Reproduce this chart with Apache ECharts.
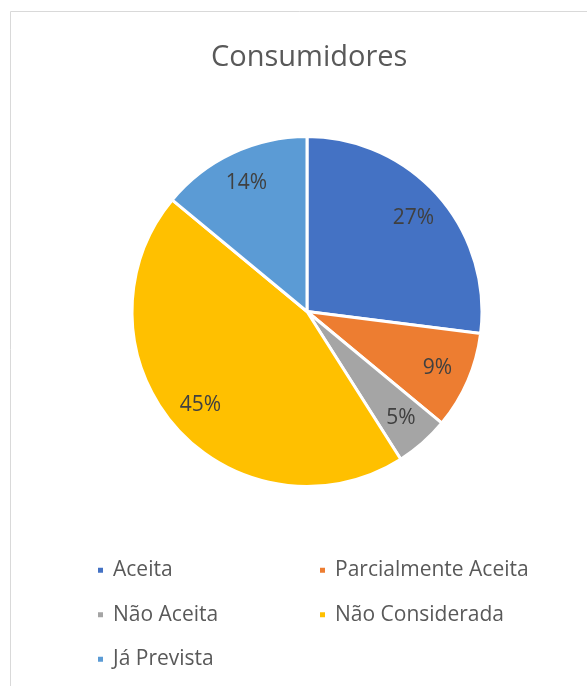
<!DOCTYPE html>
<html>
<head>
<meta charset="utf-8">
<script src="https://cdn.jsdelivr.net/npm/echarts@6/dist/echarts.min.js"></script>
<style>html,body{margin:0;padding:0;background:#fff}#c{width:587px;height:686px}</style>
</head>
<body>
<div id="c"></div>
<script>
const categories = ['Aceita', 'Parcialmente Aceita', 'Não Aceita', 'Não Considerada', 'Já Prevista'];
const values = [27, 9, 5, 45, 14];
const colors = ['#4472C4', '#ED7D31', '#A5A5A5', '#FFC000', '#5B9BD5'];
const legendLeft = ['Aceita', 'Não Aceita', 'Já Prevista'];
const legendRight = ['Parcialmente Aceita', 'Não Considerada'];

const FONT = 'Open Sans';
const chart = echarts.init(document.getElementById('c'), null, {renderer: 'canvas'});
const data = categories.map((n, i) => ({name: n, value: values[i], itemStyle: {color: colors[i]}}));
const total = values.reduce((a, b) => a + b, 0);
const legendCommon = {
  orient: 'vertical', top: 553, itemWidth: 7, itemHeight: 7, icon: 'rect', itemGap: 20,
  selectedMode: false,
  textStyle: {fontFamily: FONT, fontSize: 21, color: '#595959', padding: [0, 0, 0, 4], lineHeight: 24.5, height: 24.5}
};
chart.setOption({
  animation: false,
  graphic: [{type: 'rect', shape: {x: 10.5, y: 11.5, width: 600, height: 700}, style: {fill: 'none', stroke: '#d9d9d9', lineWidth: 1}}],
  title: {text: 'Consumidores', left: 206, top: 38, textStyle: {fontFamily: FONT, fontSize: 29, fontWeight: 'normal', color: '#595959'}},
  legend: [
    Object.assign({}, legendCommon, {left: 91, data: legendLeft}),
    Object.assign({}, legendCommon, {left: 313, data: legendRight})
  ],
  series: [
    {
      type: 'pie', center: [307, 311.5], radius: 175, startAngle: 90, clockwise: true,
      label: {show: false}, labelLine: {show: false}, emphasis: {disabled: true},
      itemStyle: {borderColor: '#ffffff', borderWidth: 3},
      data: data
    },
    {
      type: 'pie', center: [307, 311.5], radius: [105, 173], startAngle: 90, clockwise: true,
      silent: true, emphasis: {disabled: true},
      itemStyle: {color: 'rgba(0,0,0,0)', borderWidth: 0},
      labelLine: {show: false},
      label: {show: true, position: 'inside', fontFamily: FONT, fontSize: 21, color: '#404040',
        formatter: p => Math.round(p.value / total * 100) + '%'},
      data: categories.map((n, i) => ({name: n, value: values[i]}))
    }
  ]
});
</script>
</body>
</html>
